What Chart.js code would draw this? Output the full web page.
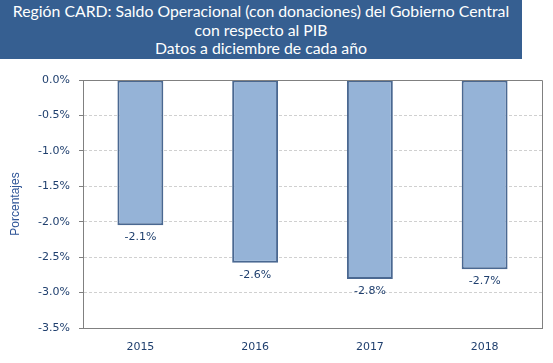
<!DOCTYPE html>
<html><head><meta charset="utf-8">
<script src="https://cdn.jsdelivr.net/npm/chart.js@4.4.1/dist/chart.umd.min.js"></script>
<style>
html,body{margin:0;padding:0;background:#fff;}
#wrap{position:relative;width:553px;height:363px;}
#title{position:absolute;left:0;top:0;width:522px;height:59px;background:#365F91;color:#fff;
 font-family:Lato,"Open Sans",sans-serif;font-size:15.8px;line-height:18.5px;text-align:center;padding-top:2px;box-sizing:border-box;}
canvas{position:absolute;left:0;top:0;}
</style></head>
<body>
<div id="wrap">
<canvas id="c" width="553" height="363"></canvas>
<div id="title">Región CARD: Saldo Operacional (con donaciones) del Gobierno Central<br>con respecto al PIB<br>Datos a diciembre de cada año</div>
</div>
<script>
const categories = ["2015", "2016", "2017", "2018"];
const saldoOperacional = [-2.05, -2.58, -2.81, -2.67];
const dataLabels = ["-2.1%", "-2.6%", "-2.8%", "-2.7%"];
const yTicks = [0, -0.5, -1.0, -1.5, -2.0, -2.5, -3.0, -3.5];
const yAxisTitle = "Porcentajes";

const textColor = "#1F3F6E";

const labelPlugin = {
  id: "barLabels",
  afterDatasetsDraw(chart) {
    const ctx = chart.ctx;
    const meta = chart.getDatasetMeta(0);
    ctx.save();
    ctx.font = "11px Tahoma, 'DejaVu Sans', sans-serif";
    ctx.fillStyle = textColor;
    ctx.textAlign = "center";
    ctx.textBaseline = "middle";
    meta.data.forEach((bar, i) => {
      ctx.fillText(dataLabels[i], bar.x, bar.y + 12);
    });
    ctx.restore();
  }
};
const framePlugin = {
  id: "frame",
  afterDraw(chart) {
    const a = chart.chartArea, ctx = chart.ctx;
    ctx.save();
    ctx.strokeStyle = "#808080";
    ctx.lineWidth = 1;
    ctx.beginPath();
    ctx.moveTo(a.left, a.top + 0.5);
    ctx.lineTo(a.right + 0.5, a.top + 0.5);
    ctx.lineTo(a.right + 0.5, a.bottom);
    ctx.stroke();
    ctx.restore();
  }
};

new Chart(document.getElementById("c"), {
  type: "bar",
  data: {
    labels: categories,
    datasets: [{
      data: saldoOperacional,
      backgroundColor: "#95B3D7",
      borderColor: "#4A6891",
      borderWidth: 2,
      borderSkipped: false,
      barPercentage: 0.4,
      categoryPercentage: 1.0
    }]
  },
  options: {
    responsive: false,
    animation: false,
    devicePixelRatio: 1,
    layout: { padding: { left: 0, right: 11, top: 80, bottom: 0 } },
    plugins: { legend: { display: false }, tooltip: { enabled: false }, title: { display: false } },
    scales: {
      x: {
        grid: { display: false, drawTicks: false },
        border: { display: true, color: "#808080", width: 1 },
        ticks: { color: textColor, font: { family: "Tahoma, 'DejaVu Sans', sans-serif", size: 11 }, padding: 13 },
        afterFit(s) { s.height = 35; }
      },
      y: {
        min: -3.5, max: 0,
        afterBuildTicks(s) { s.ticks = yTicks.map(v => ({ value: v })); },
        ticks: {
          color: textColor,
          font: { family: "Tahoma, 'DejaVu Sans', sans-serif", size: 11 },
          padding: 9,
          callback: v => Number(v).toFixed(1) + "%"
        },
        grid: { color: "#D0D0D0", tickColor: "#808080", tickLength: 4, tickBorderDash: [] },
        border: { display: true, color: "#808080", width: 1, dash: [3, 2] },
        title: { display: true, text: yAxisTitle, color: "#2F5597", font: { family: "Arial, 'Liberation Sans', sans-serif", size: 12 }, padding: { top: 8, bottom: 0 } },
        afterFit(s) { s.width = 83; }
      }
    }
  },
  plugins: [labelPlugin, framePlugin]
});
</script>
</body></html>
